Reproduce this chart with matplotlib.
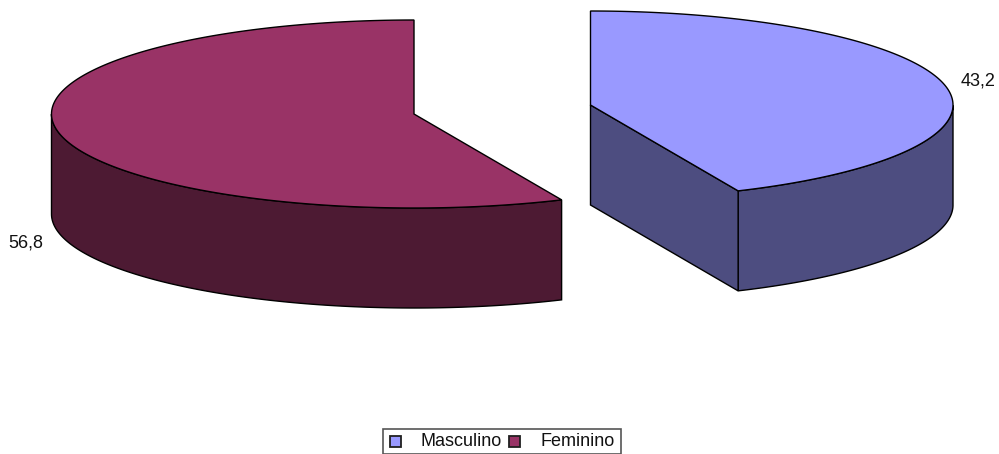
import numpy as np
import matplotlib
matplotlib.use("Agg")
import matplotlib.pyplot as plt
from matplotlib.patches import Polygon, Rectangle

plt.rcParams['font.family'] = ['Liberation Sans', 'DejaVu Sans']

categories = ["Masculino", "Feminino"]
values = [43.2, 56.8]
labels = ["43,2", "56,8"]
top_colors = ["#9999FF", "#993366"]
side_colors = ["#4D4D80", "#4D1A33"]

W, H = 999, 454
RX, RY, DEPTH = 362.5, 94, 100
centers = [(590.5, 105), (414, 114)]
TILT_SHIFT = np.radians(0.45)  # 3D projection nudges the shared slice boundary
LW = 1.0

fig = plt.figure(figsize=(W / 100, H / 100), dpi=100)
ax = fig.add_axes([0, 0, 1, 1])
ax.set_xlim(0, W)
ax.set_ylim(H, 0)
ax.axis("off")


def pt(c, t):
    return np.column_stack([c[0] + RX * np.sin(t), c[1] - RY * np.cos(t)])


total = sum(values)
boundary = 2 * np.pi * values[0] / total + TILT_SHIFT
spans = [(0.0, boundary), (boundary, 2 * np.pi)]

for i, ((start, end), col, side, c) in enumerate(zip(spans, top_colors, side_colors, centers)):
    t = np.linspace(start, end, 300)
    rim = pt(c, t)
    centre = np.array(c, float)
    vis = t[(t >= np.pi / 2) & (t <= 3 * np.pi / 2)]
    r = pt(c, vis)
    wall = np.vstack([r, (r + [0, DEPTH])[::-1]])
    ax.add_patch(Polygon(wall, closed=True, fc=side, ec="black", lw=LW, zorder=2))
    if i == 0:
        e = pt(c, np.array([end]))[0]
        cut = [centre, e, e + [0, DEPTH], centre + [0, DEPTH]]
        ax.add_patch(Polygon(cut, closed=True, fc=side, ec="black", lw=LW, zorder=2))
    ax.add_patch(Polygon(np.vstack([centre, rim]), closed=True, fc=col, ec="black", lw=LW, zorder=3))

ax.text(978, 81.5, labels[0], ha="center", va="center", fontsize=13, color="#111111")
ax.text(26, 243, labels[1], ha="center", va="center", fontsize=13, color="#111111")

# legend
ax.add_patch(Rectangle((383, 428.5), 237.5, 25, fc="white", ec="#555555", lw=1.2, zorder=1))
for x, tx, cat, col in zip((395.5, 514), (420, 540.5), categories, top_colors):
    ax.add_patch(Rectangle((x - 5.5, 435.5), 11, 11, fc=col, ec="#202020", lw=1.3, zorder=2))
    ax.text(tx, 441.5, cat, ha="left", va="center", fontsize=13, color="#111111")

fig.savefig("out.png", dpi=100, facecolor="white")
